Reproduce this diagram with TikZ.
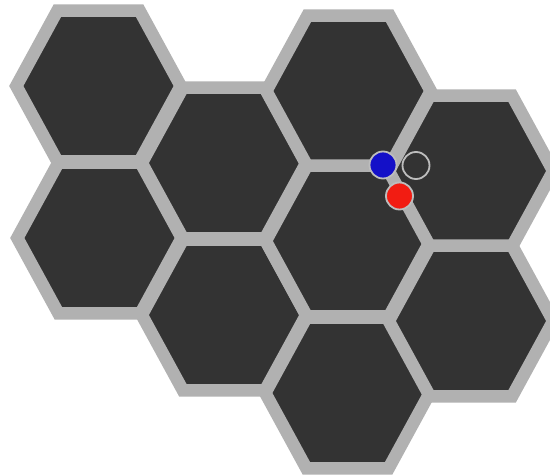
\documentclass[tikz,border=0pt]{standalone}
\usepackage{xcolor}
\usepackage{tikz}
\usetikzlibrary{shapes.geometric}
\definecolor{HXGrey}{HTML}{B1B1B1}
\definecolor{HXDark}{HTML}{333333}
\definecolor{HXRing}{HTML}{BDBDBD}
\definecolor{HXBlue}{HTML}{1410C8}
\definecolor{HXRed}{HTML}{F21C12}
\tikzset{
  hxcell/.style={
    regular polygon,
    regular polygon sides=6,
    minimum size=174pt,
    inner sep=0pt,
    xscale=0.945,
    draw=HXGrey,
    fill=HXDark,
    line width=12.5pt
  },
  hxpiece/.style={circle,minimum size=27pt,inner sep=0pt,draw=HXRing,line width=1.8pt},
  hxblue/.style={hxpiece,fill=HXBlue},
  hxred/.style={hxpiece,fill=HXRed},
  hxempty/.style={hxpiece,fill=HXDark},
}

\begin{document}
\begin{tikzpicture}[x=1pt,y=-1pt]
  \useasboundingbox (0,0) rectangle (550,476);

  % board, column by column
  \node[hxcell] (hexA) at (98.5,86) {};
  \node[hxcell] (hexB) at (99.5,238) {};
  \node[hxcell] (hexC) at (224,163) {};
  \node[hxcell] (hexE) at (224,315) {};
  \node[hxcell] (hexD) at (348.5,91) {};
  \node[hxcell] (hexF) at (348,241) {};
  \node[hxcell] (hexH) at (347.5,393) {};
  \node[hxcell] (hexG) at (471,171) {};
  \node[hxcell] (hexI) at (471,321) {};

  % pieces round the corner of hexD, hexF and hexG
  \node[hxblue] (bluepiece) at (383,165) {};
  \node[hxempty] (openslot) at (416,165.5) {};
  \node[hxred] (redpiece) at (399.5,196) {};
\end{tikzpicture}
\end{document}
